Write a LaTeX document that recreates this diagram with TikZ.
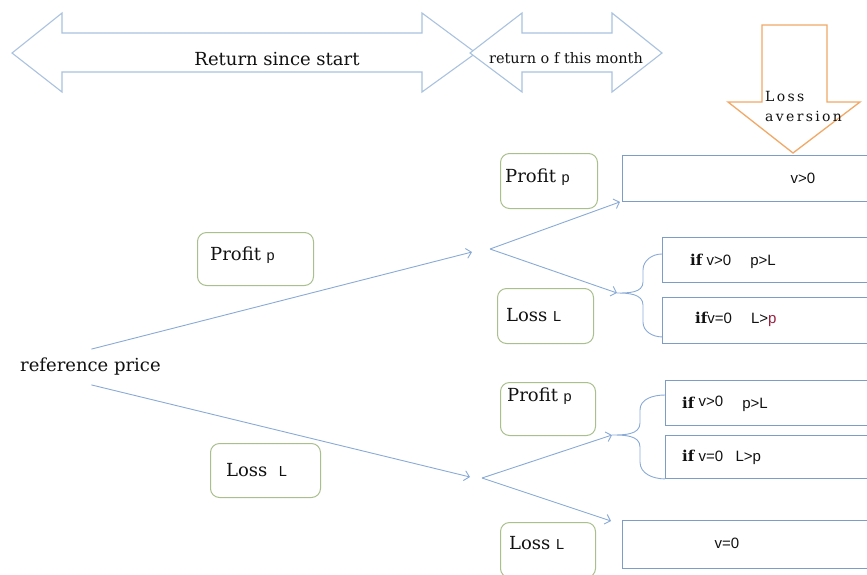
\documentclass[tikz,border=0pt]{standalone}
\usepackage{fontspec}
\setmainfont{DejaVu Serif}
\newfontfamily\sansf{Liberation Sans}
\usetikzlibrary{arrows.meta}
\definecolor{arrowblue}{HTML}{A9C2E0}
\definecolor{lineblue}{HTML}{8AAAD6}
\definecolor{rectblue}{HTML}{7F9DC4}
\definecolor{boxgreen}{HTML}{A9BF8C}
\definecolor{lossorange}{HTML}{F2A866}
\definecolor{txt}{HTML}{111111}
\definecolor{redp}{HTML}{9A2040}
\newcommand{\vs}[1]{{\sansf\fontsize{14.5}{16}\selectfont #1}}
\newcommand{\bif}{{\rmfamily\bfseries\fontsize{15}{17}\selectfont if}}
\begin{document}
\begin{tikzpicture}[x=1pt,y=-1pt,
  bigarrow/.style={draw=arrowblue,line width=1.1pt,fill=white,line join=miter},
  lossarrow/.style={draw=lossorange,line width=1.3pt,fill=white,line join=miter},
  condbox/.style={draw=rectblue,line width=0.9pt,anchor=north west,inner sep=0pt,minimum width=#1},
  condbox/.default=260pt,
  valbox/.style={draw=boxgreen,line width=1pt,rounded corners=9pt,anchor=north west,inner sep=0pt,fill=white},
  conn/.style={draw=lineblue,line width=0.9pt,-{Straight Barb[length=5pt,width=10pt]}},
  plainline/.style={draw=lineblue,line width=0.9pt},
  lbl/.style={font=\fontsize{18}{21}\selectfont,inner sep=0pt,text=txt},
  smalllbl/.style={font=\fontsize{13.5}{16}\selectfont,inner sep=0pt,text=txt},
  condtxt/.style={font=\sansf\fontsize{15}{17}\selectfont,inner sep=0pt,text=txt,anchor=west}
]
\useasboundingbox (0,0) rectangle (867,574);
\clip (0,0) rectangle (867,574);

% top double arrows
\draw[bigarrow] (12,53) -- (62,13) -- (62,33) -- (422,33) -- (422,13) -- (476,53)
   -- (422,92) -- (422,72) -- (62,72) -- (62,92) -- cycle;
\node[lbl] (since) at (277,59) {Return since start};
\draw[bigarrow] (470,53) -- (522,13) -- (522,33) -- (612,33) -- (612,13) -- (662,53)
   -- (612,92) -- (612,72) -- (522,72) -- (522,92) -- cycle;
\node[smalllbl,font=\fontsize{14.5}{16}\selectfont] (month) at (566,58) {return o f this month};

% loss aversion arrow
\draw[lossarrow] (762,25) -- (827,25) -- (827,102) -- (860,102) -- (793,153)
   -- (728,102) -- (762,102) -- cycle;
\node[smalllbl,anchor=north west,align=left,font=\fontsize{14}{20}\selectfont] (lossav) at (765,91) {L\,o\,s\,s\\a\,v\,e\,r\,s\,i\,o\,n};

% reference price
\node[lbl,anchor=west] (ref) at (20,367) {reference price};

% first level value boxes
\node[valbox,minimum width=116pt,minimum height=53pt] (p1) at (197,232) {};
\node[lbl,anchor=west] at (210,255) {Profit \vs{p}};
\node[valbox,minimum width=110pt,minimum height=54pt] (l1) at (210,443) {};
\node[lbl,anchor=west] at (226,470) {Loss \ \vs{L}};

% second level value boxes
\node[valbox,minimum width=97pt,minimum height=55pt] (p2) at (500,153) {};
\node[lbl,anchor=west] at (505,177) {Profit \vs{p}};
\node[valbox,minimum width=96pt,minimum height=55pt] (l2) at (497,288) {};
\node[lbl,anchor=west] at (506,315) {Loss \vs{L}};
\node[valbox,minimum width=95pt,minimum height=53pt] (p3) at (500,382) {};
\node[lbl,anchor=west] at (507,396) {Profit \vs{p}};
\node[valbox,minimum width=95pt,minimum height=55pt] (l3) at (500,522) {};
\node[lbl,anchor=west] at (509,543) {Loss \vs{L}};

% condition boxes
\node[condbox,minimum height=46pt] (r0) at (622,155) {};
\node[condtxt,anchor=center] at (803,178) {v>0};
\node[condbox,minimum height=45pt] (r1) at (662,237) {};
\node[condtxt] at (690,261) {\bif\ v>0 \quad p>L};
\node[condbox,minimum height=46pt] (r2) at (662,297) {};
\node[condtxt] at (695,319) {\bif v=0 \quad L>{\color{redp}p}};
\node[condbox,minimum height=45pt] (r3) at (665,380) {};
\node[condtxt] at (682,404) {\bif\ \raisebox{2pt}{v>0} \quad p>L};
\node[condbox,minimum height=43pt] (r4) at (665,435) {};
\node[condtxt] at (682,457) {\bif\ v=0 \ \ L>p};
\node[condbox,minimum height=48pt] (r5) at (622,520) {};
\node[condtxt,anchor=center] at (727,543) {v=0};

% coordinates
\coordinate (j1) at (472,252);
\coordinate (j2) at (470,477);
\coordinate (f1) at (490,249);
\coordinate (f2) at (482,478);
\coordinate (b1) at (617,293);
\coordinate (b2) at (612,435);
\coordinate (e5) at (611,521);

% connectors
\draw[conn] ([xshift=1pt,yshift=9pt]ref.north) -- (j1);
\draw[conn] ([xshift=1pt,yshift=-9pt]ref.south) -- (j2);
\draw[conn] (f1) -- ([xshift=-2pt]r0.south west);
\draw[conn] (f1) -- (b1);
\draw[conn] (f2) -- (b2);
\draw[conn] (f2) -- (e5);

% braces
\draw[plainline] ([yshift=-17pt]r1.north west) to[out=180,in=90] (643,270) -- (643,282)
   to[out=-90,in=0] (b1) to[out=0,in=90] (643,305) -- (643,322)
   to[out=-90,in=180] ([yshift=7pt]r2.south west);
\draw[plainline] ([yshift=-15pt]r3.north west) to[out=180,in=90] (640,410) -- (640,423)
   to[out=-90,in=0] (b2) to[out=0,in=90] (640,447) -- (640,462)
   to[out=-90,in=180] (r4.south west);
\end{tikzpicture}
\end{document}
